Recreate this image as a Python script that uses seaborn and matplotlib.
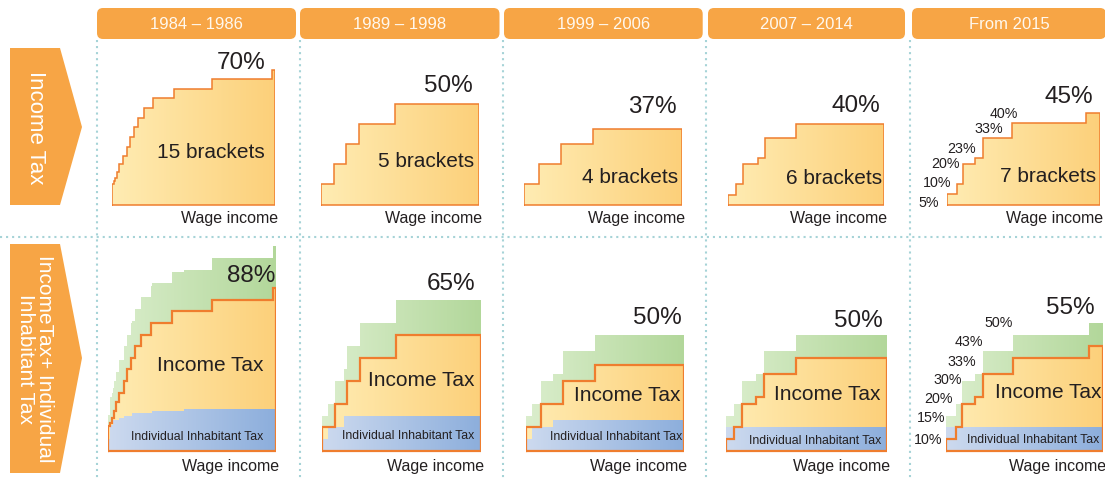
import numpy as np
import matplotlib.pyplot as plt
import seaborn as sns
from matplotlib.colors import LinearSegmentedColormap
from matplotlib.patches import FancyBboxPatch, Polygon

sns.set_theme(style="white")
plt.rcParams["font.family"] = ["Liberation Sans", "DejaVu Sans"]

# ---- data ----
periods = ["1984 – 1986", "1989 – 1998", "1999 – 2006", "2007 – 2014", "From 2015"]
row_titles = ["Income Tax", "IncomeTax+ Individual\nInhabitant Tax"]
income_rates = [
    [10.5, 12, 14, 17, 21, 25, 30, 35, 40, 45, 50, 55, 60, 65, 70],
    [10, 20, 30, 40, 50],
    [10, 20, 30, 37],
    [5, 10, 20, 23, 33, 40],
    [5, 10, 20, 23, 33, 40, 45],
]
# bracket widths as drawn on the (schematic) wage income axis
income_widths = [
    [1.7, 1.7, 1.7, 2.3, 3.3, 4.3, 3.3, 3.3, 4.3, 6.3, 9.3, 20.7, 38.3, 59.3, 3.3],
    [13.3, 11.7, 13, 36.3, 84.3],
    [15, 21.7, 32.3, 89],
    [7.7, 7.3, 14.3, 7.3, 31.3, 88],
    [10, 6, 12.3, 7.7, 29, 74, 14.3],
]
inhabitant_rates = [
    [5, 11, 13, 14, 15, 16, 17, 18],
    [5, 10, 15],
    [5, 10, 13],
    [10],
    [10],
]
inhabitant_widths = [
    [2, 3, 5, 5, 8, 19, 32, 89],
    [6, 16.6, 136],
    [5.7, 21.6, 130.7],
    [1],
    [1],
]
x_label = "Wage income"

# ---- layout (pixels) ----
W, H = 1105, 479
dividers = [97, 299.5, 503, 706, 909.5]
header_left = [97, 300, 504, 708, 912]
header_right = [296, 499.5, 702.7, 905, 1106]
top_left = [112, 320.7, 524, 728.3, 946.7]
top_right = [275, 479.3, 682, 884.3, 1100]
bot_left = [108.3, 321.7, 526, 726, 946]
bot_right = [276, 481, 684.3, 887.3, 1103.3]
top_base, bot_base = 204.6, 450.5
top_scale = [1.93, 2.02, 2.03, 2.02, 2.03]
bot_scale = 2.32
Y0, Y1 = -12, 95

top_pct_off = [(-10, 1), (-6.6, 11.6), (-5.3, 16.6), (-4.3, 11.6), (-7, 10)]
bot_pct_off = [(-1, -36), (-6, 9.4), (-2.6, 10), (-4.6, 7.3), (-9, 9)]
bracket_off = [(-10, 52.5), (-5.3, 43.5), (-3.7, 27), (-2.6, 26.5), (-4, 28.5)]
income_lbl_off = [(-12.7, 85), (-6, 70), (-4.3, 55), (-7.3, 56.5), (-1.6, 58)]
inhab_lbl_off = [(-12.7, 14), (-7, 14.7), (-1.6, 13.4), (-5.6, 10), (-4, 10.7)]
small_top_off = [(-7.4, -8.5), (-5, 1.3), (-2.7, 0.4), (1, 8.9), (20, 8.5), (6.6, 9.6)]
small_bot_off = [(-3.3, -12.5), (-1, -2.4), (-3.6, 4.8), (-0.7, 0.6), (0.9, 12.4), (-0.3, 8.6), (0.6, 11.4)]

ORANGE = "#EF7D2E"
HEADER = "#F7A545"
DOT = "#A6D3D7"
TXT = "#231F20"
YELLOW = ("#FFECB3", "#FCD07A")
GREEN = ("#DBEECD", "#B2D79A")
BLUE = ("#CDDAEF", "#8CAEDC")

fig = plt.figure(figsize=(W / 100, H / 100), dpi=100)
bg = fig.add_axes([0, 0, 1, 1])
bg.set_xlim(0, W)
bg.set_ylim(H, 0)
bg.axis("off")

# dotted grid
for d in dividers:
    bg.plot([d, d], [40, H], color=DOT, lw=1.5, ls=(0, (1, 1.9)), zorder=0)
bg.plot([0, W], [237, 237], color=DOT, lw=1.5, ls=(0, (1, 1.9)), zorder=0)

# period headers
for p, l, r in zip(periods, header_left, header_right):
    bg.add_patch(FancyBboxPatch((l, 8), r - l, 31, boxstyle="round,pad=0,rounding_size=6",
                                fc=HEADER, ec="none", zorder=1))
    bg.text((l + r) / 2, 24, p, ha="center", va="center", fontsize=12, color="#FFF8EE", zorder=2)

# row arrows
for (y0, ym, y1), title in zip([(48, 127, 205), (244, 358, 473)], row_titles):
    bg.add_patch(Polygon([(10, y0), (60, y0), (82, ym), (60, y1), (10, y1)],
                         closed=True, fc=HEADER, ec="none", zorder=1))
    bg.text(35, ym + 1, title, rotation=-90, ha="center", va="center", multialignment="center",
            linespacing=1.0, fontsize=16 if "\n" not in title else 15, color="white", zorder=2)


def edges_of(widths, total):
    e = np.concatenate([[0], np.cumsum(widths)]) / np.sum(widths) * total
    e[-1] = total
    return e


def combined(e1, r1, e2, r2):
    e = np.unique(np.round(np.concatenate([e1, e2]), 6))
    mids = (e[:-1] + e[1:]) / 2
    v = (np.asarray(r1)[np.searchsorted(e1, mids, side="right") - 1]
         + np.asarray(r2)[np.searchsorted(e2, mids, side="right") - 1])
    return e, v


def grad_fill(ax, edges, rates, colors, z):
    y = np.append(rates, rates[-1])
    poly = ax.fill_between(edges, 0, y, step="post", facecolor="none", edgecolor="none", zorder=z)
    cmap = LinearSegmentedColormap.from_list("g", list(colors))
    im = ax.imshow(np.linspace(0, 1, 256)[None, :], cmap=cmap, aspect="auto", origin="lower",
                   extent=[edges[0], edges[-1], 0, max(rates)], interpolation="bilinear", zorder=z)
    im.set_clip_path(poly.get_paths()[0], transform=ax.transData)


def outline(ax, edges, rates, lw):
    xs, ys = [edges[0]], [0]
    for i, r in enumerate(rates):
        xs += [edges[i], edges[i + 1]]
        ys += [r, r]
    xs += [edges[-1], edges[0]]
    ys += [0, 0]
    sns.lineplot(x=xs, y=ys, sort=False, estimator=None, color=ORANGE, linewidth=lw,
                 solid_joinstyle="miter", solid_capstyle="projecting", zorder=4, ax=ax)


def panel_axes(left, right, base, scale):
    bottom_px = base - Y0 * scale
    return fig.add_axes([left / W, 1 - bottom_px / H, (right - left) / W, (Y1 - Y0) * scale / H])


def label(ax, s, xy, off, size, ha="right", va="center"):
    ax.annotate(s, xy=xy, xytext=off, textcoords="offset pixels", ha=ha, va=va,
                fontsize=size, color=TXT, zorder=6, annotation_clip=False)


for i in range(5):
    rates = income_rates[i]
    total = float(np.sum(income_widths[i]))
    e_inc = edges_of(income_widths[i], total)

    # --- top row: income tax only ---
    ax = panel_axes(top_left[i], top_right[i], top_base, top_scale[i])
    grad_fill(ax, e_inc, rates, YELLOW, 2)
    outline(ax, e_inc, rates, 1.1)
    label(ax, f"{max(rates):g}%", (total, max(rates)), top_pct_off[i], 17.5, va="baseline")
    label(ax, f"{len(rates)} brackets", (total, 0), bracket_off[i], 15)
    label(ax, x_label, (total, 0), (3, -14), 11.5)
    if i == 4:
        for j, r in enumerate(rates[:-1]):
            dx, dy = small_top_off[j]
            label(ax, f"{r:g}%", (e_inc[j], r), (dx, dy), 10.3)
    ax.set_xlim(0, total)
    ax.set_ylim(Y0, Y1)
    ax.axis("off")

    # --- bottom row: income tax + inhabitant tax ---
    ax = panel_axes(bot_left[i], bot_right[i], bot_base, bot_scale)
    e_inh = edges_of(inhabitant_widths[i], total)
    e_tot, v_tot = combined(e_inc, rates, e_inh, inhabitant_rates[i])
    grad_fill(ax, e_tot, v_tot, GREEN, 1)
    grad_fill(ax, e_inc, rates, YELLOW, 2)
    grad_fill(ax, e_inh, inhabitant_rates[i], BLUE, 3)
    outline(ax, e_inc, rates, 1.6)
    label(ax, f"{max(v_tot):g}%", (total, max(v_tot)), bot_pct_off[i], 17.5, va="baseline")
    label(ax, "Income Tax", (total, 0), income_lbl_off[i], 15)
    label(ax, "Individual Inhabitant Tax", (total, 0), inhab_lbl_off[i], 8.8)
    label(ax, x_label, (total, 0), (3, -16), 11.5)
    if i == 4:
        label(ax, f"{inhabitant_rates[i][0]:g}%", (0, inhabitant_rates[i][0]), small_bot_off[0], 10.3)
        for j, v in enumerate(v_tot[:-1]):
            label(ax, f"{v:g}%", (e_tot[j], v), small_bot_off[j + 1], 10.3)
    ax.set_xlim(0, total)
    ax.set_ylim(Y0, Y1)
    ax.axis("off")

fig.savefig("out.png", dpi=100, facecolor="white")
